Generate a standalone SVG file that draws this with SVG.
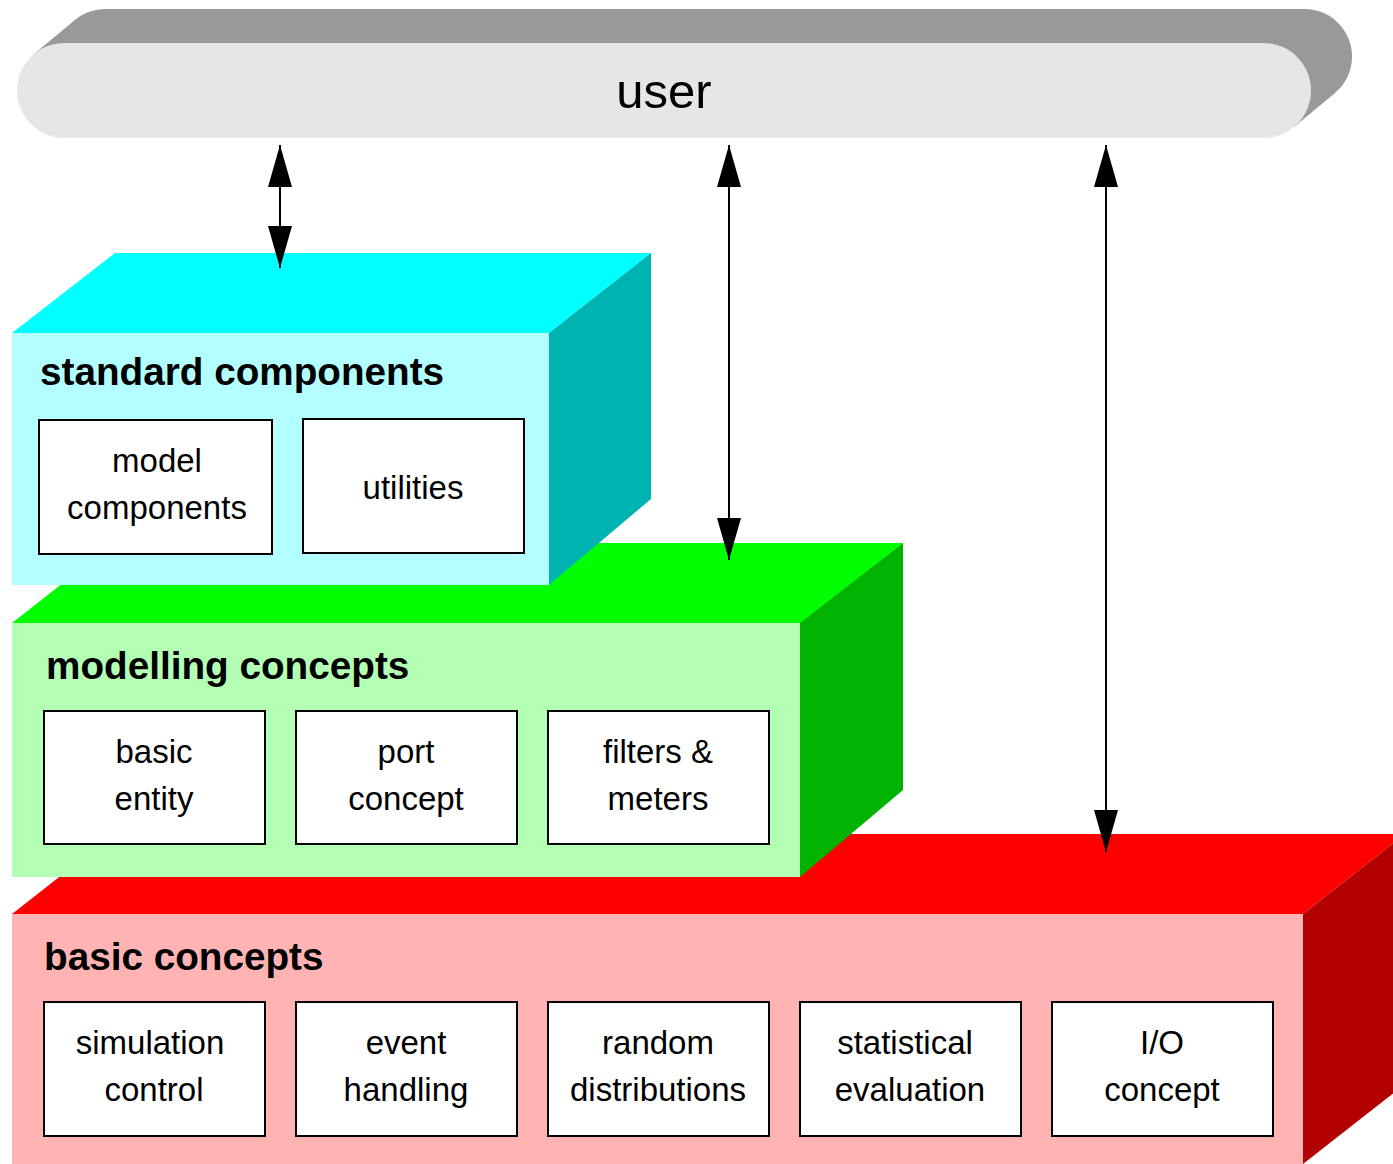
<svg xmlns="http://www.w3.org/2000/svg" width="1393" height="1164" viewBox="0 0 1393 1164">
<defs>
<style>
.title{font-family:"Liberation Sans",Arial,sans-serif;font-weight:bold;font-size:38.7px;fill:#000}
.lbl{font-family:"Liberation Sans",Arial,sans-serif;font-size:33px;fill:#000;text-anchor:middle}
.box{fill:#fff;stroke:#000;stroke-width:2}
.conn{stroke:#000;stroke-width:2;fill:none}
</style>
<marker id="ah" viewBox="0 0 42 24" refX="42" refY="12" markerWidth="42" markerHeight="24" markerUnits="userSpaceOnUse" orient="auto-start-reverse">
<path d="M0,0 L42,12 L0,24 Z" fill="#000"/>
</marker>
</defs>
<rect width="1393" height="1164" fill="#fff"/>

<g id="basic-concepts">
<polygon points="12,914 114,834 1405,834 1303,914" fill="#ff0000"/>
<polygon points="1303,914 1405,834 1405,1084 1303,1164" fill="#b30000"/>
<rect x="12" y="914" width="1291" height="250" fill="#ffb3b3"/>
<text class="title" x="44" y="970">basic concepts</text>
<g id="simulation-control"><rect class="box" x="44" y="1002" width="221" height="134"/><text class="lbl" x="150" y="1054">simulation</text><text class="lbl" x="154" y="1101">control</text></g>
<g id="event-handling"><rect class="box" x="296" y="1002" width="221" height="134"/><text class="lbl" x="406" y="1054">event</text><text class="lbl" x="406" y="1101">handling</text></g>
<g id="random-distributions"><rect class="box" x="548" y="1002" width="221" height="134"/><text class="lbl" x="658" y="1054">random</text><text class="lbl" x="658" y="1101">distributions</text></g>
<g id="statistical-evaluation"><rect class="box" x="800" y="1002" width="221" height="134"/><text class="lbl" x="905" y="1054">statistical</text><text class="lbl" x="910" y="1101">evaluation</text></g>
<g id="io-concept"><rect class="box" x="1052" y="1002" width="221" height="134"/><text class="lbl" x="1162" y="1054">I/O</text><text class="lbl" x="1162" y="1101">concept</text></g>
</g>

<g id="modelling-concepts">
<polygon points="12,623 114,543 903,543 801,623" fill="#00ff00"/>
<polygon points="800,623 903,543 903,790 800,877" fill="#00b300"/>
<rect x="12" y="623" width="788" height="254" fill="#b3ffb3"/>
<text class="title" x="46" y="679">modelling concepts</text>
<g id="basic-entity"><rect class="box" x="44" y="711" width="221" height="133"/><text class="lbl" x="154" y="763">basic</text><text class="lbl" x="154" y="810">entity</text></g>
<g id="port-concept"><rect class="box" x="296" y="711" width="221" height="133"/><text class="lbl" x="406" y="763">port</text><text class="lbl" x="406" y="810">concept</text></g>
<g id="filters-meters"><rect class="box" x="548" y="711" width="221" height="133"/><text class="lbl" x="658" y="763">filters &amp;</text><text class="lbl" x="658" y="810">meters</text></g>
</g>

<g id="standard-components">
<polygon points="12,333 115,253 651,253 549,333" fill="#00ffff"/>
<polygon points="549,333 651,253 651,499 549,585" fill="#00b3b3"/>
<rect x="12" y="333" width="537" height="252" fill="#b3ffff"/>
<text class="title" x="40" y="385">standard components</text>
<g id="model-components"><rect class="box" x="39" y="420" width="233" height="134"/><text class="lbl" x="157" y="472">model</text><text class="lbl" x="157" y="519">components</text></g>
<g id="utilities"><rect class="box" x="303" y="419" width="221" height="134"/><text class="lbl" x="413" y="499">utilities</text></g>
</g>

<g id="user">
<rect x="58" y="9" width="1294" height="95" rx="47.5" ry="47.5" fill="#999999"/>
<polygon points="34,54 75,20 1335,93 1294,127" fill="#999999"/>
<rect x="17" y="43" width="1294" height="95" rx="47.5" ry="47.5" fill="#e6e6e6"/>
<text x="664" y="108" font-family="'Liberation Sans',Arial,sans-serif" font-size="49" text-anchor="middle" fill="#000">user</text>
</g>

<g id="connectors">
<line class="conn" x1="280" y1="145" x2="280" y2="268" marker-start="url(#ah)" marker-end="url(#ah)"/>
<line class="conn" x1="729" y1="145" x2="729" y2="560" marker-start="url(#ah)" marker-end="url(#ah)"/>
<line class="conn" x1="1106" y1="145" x2="1106" y2="852" marker-start="url(#ah)" marker-end="url(#ah)"/>
</g>
</svg>
